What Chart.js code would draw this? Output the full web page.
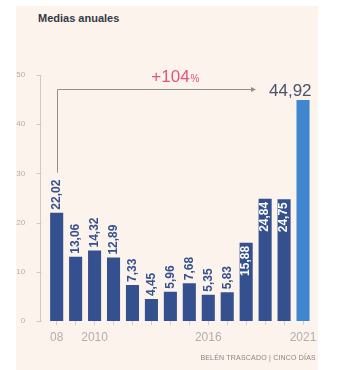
<!DOCTYPE html>
<html>
<head>
<meta charset="utf-8">
<script src="https://cdn.jsdelivr.net/npm/chart.js@4/dist/chart.umd.min.js"></script>
<style>
  body { margin: 0; background: #fff; font-family: "Liberation Sans", Arial, sans-serif; }
  #wrap { position: relative; width: 337px; height: 370px; }
  #panel { position: absolute; left: 16px; top: 6px; width: 302px; height: 364px; background: #fcf3ed; }
  #title { position: absolute; left: 38px; top: 12px; font-size: 11px; font-weight: bold; color: #353a46; }
  #source { position: absolute; right: 21px; top: 354px; font-size: 7px; color: #858585; letter-spacing: 0.2px; }
  canvas { position: absolute; left: 0; top: 0; }
</style>
</head>
<body>
<div id="wrap">
  <div id="panel"></div>
  <div id="title">Medias anuales</div>
  <canvas id="chart" width="337" height="370"></canvas>
  <div id="source">BELÉN TRASCADO | CINCO DÍAS</div>
</div>
<script>
// annual averages 2008-2021
const years = ['2008', '2009', '2010', '2011', '2012', '2013', '2014', '2015', '2016', '2017', '2018', '2019', '2020', '2021'];
const yearTicks = ['08', '', '2010', '', '', '', '', '', '2016', '', '', '', '', '2021'];
const averages = [22.02, 13.06, 14.32, 12.89, 7.33, 4.45, 5.96, 7.68, 5.35, 5.83, 15.88, 24.84, 24.75, 44.92];
const yTicks = [0, 10, 20, 30, 40, 50];

const NAVY = '#34508f';
const LIGHT = '#3f86cf';
const lastIdx = averages.length - 1;

const fmt = v => v.toFixed(2).replace('.', ',');

// labels of the recent tall bars sit inside the bar in white
const labelInside = i => i >= 10 && i < lastIdx;

const barLabels = {
  id: 'barLabels',
  afterDatasetsDraw(chart) {
    const ctx = chart.ctx;
    const meta = chart.getDatasetMeta(0);
    ctx.save();
    ctx.font = 'bold 12px "Liberation Sans", Arial, sans-serif';
    ctx.textBaseline = 'middle';
    meta.data.forEach((bar, i) => {
      if (i === lastIdx) return;
      const txt = fmt(averages[i]);
      ctx.save();
      ctx.translate(bar.x, bar.y);
      ctx.rotate(-Math.PI / 2);
      if (labelInside(i)) {
        ctx.fillStyle = '#ffffff';
        ctx.textAlign = 'right';
        ctx.fillText(txt, -3, 0);
      } else {
        ctx.fillStyle = NAVY;
        ctx.textAlign = 'left';
        ctx.fillText(txt, 3, 0);
      }
      ctx.restore();
    });
    ctx.restore();
  }
};

// y axis line with short ticks, set a little left of the bars
const yAxisLine = {
  id: 'yAxisLine',
  afterDraw(chart) {
    const ctx = chart.ctx;
    const y = chart.scales.y;
    const ax = Math.round(chart.chartArea.left - 7) + 0.5;
    ctx.save();
    ctx.strokeStyle = '#cfcac6';
    ctx.lineWidth = 1;
    ctx.beginPath();
    ctx.moveTo(ax, y.getPixelForValue(yTicks[yTicks.length - 1]));
    ctx.lineTo(ax, y.getPixelForValue(0));
    yTicks.forEach(t => {
      const py = Math.round(y.getPixelForValue(t)) + 0.5;
      ctx.moveTo(ax - 4, py);
      ctx.lineTo(ax + 1, py);
    });
    ctx.stroke();
    ctx.restore();
  }
};

// growth arrow from the first year to the last
const growthArrow = {
  id: 'growthArrow',
  afterDatasetsDraw(chart) {
    const ctx = chart.ctx;
    const meta = chart.getDatasetMeta(0);
    const first = meta.data[0];
    const last = meta.data[lastIdx];
    ctx.save();
    ctx.font = 'bold 12px "Liberation Sans", Arial, sans-serif';
    const firstLabelTop = first.y - 3 - ctx.measureText(fmt(averages[0])).width;

    ctx.font = '17px "Liberation Sans", Arial, sans-serif';
    const lastTxt = fmt(averages[lastIdx]);
    const lastW = ctx.measureText(lastTxt).width;
    const textRight = last.x + last.width / 2 + 2;
    const textLeft = textRight - lastW;
    const baseY = last.y - 4;
    const lineY = Math.round(last.y - 11) + 0.5;
    const arrowEnd = textLeft - 15;
    const x0 = Math.round(first.x) + 0.5;

    ctx.fillStyle = '#48536d';
    ctx.textAlign = 'left';
    ctx.textBaseline = 'alphabetic';
    ctx.fillText(lastTxt, textLeft, baseY);

    ctx.strokeStyle = '#8f8f8f';
    ctx.lineWidth = 1;
    ctx.beginPath();
    ctx.moveTo(x0, firstLabelTop - 7);
    ctx.lineTo(x0, lineY);
    ctx.lineTo(arrowEnd, lineY);
    ctx.stroke();
    ctx.fillStyle = '#8f8f8f';
    ctx.beginPath();
    ctx.moveTo(arrowEnd + 2, lineY);
    ctx.lineTo(arrowEnd - 3, lineY - 2.5);
    ctx.lineTo(arrowEnd - 3, lineY + 2.5);
    ctx.closePath();
    ctx.fill();

    const pct = Math.round((averages[lastIdx] / averages[0] - 1) * 100);
    const main = '+' + pct;
    ctx.font = '17px "Liberation Sans", Arial, sans-serif';
    const mw = ctx.measureText(main).width;
    ctx.font = '10px "Liberation Sans", Arial, sans-serif';
    const pw = ctx.measureText('%').width;
    const cx = x0 + (arrowEnd - x0) * 0.6;
    const sx = cx - (mw + pw + 1) / 2;
    ctx.fillStyle = '#e2557a';
    ctx.font = '17px "Liberation Sans", Arial, sans-serif';
    ctx.fillText(main, sx, lineY - 8);
    ctx.font = '10px "Liberation Sans", Arial, sans-serif';
    ctx.fillText('%', sx + mw + 1, lineY - 8);
    ctx.restore();
  }
};

new Chart(document.getElementById('chart').getContext('2d'), {
  type: 'bar',
  data: {
    labels: years,
    datasets: [{
      data: averages,
      backgroundColor: averages.map((v, i) => i === lastIdx ? LIGHT : NAVY),
      categoryPercentage: 1,
      barPercentage: 0.69
    }]
  },
  options: {
    responsive: false,
    animation: false,
    layout: { padding: { top: 75, right: 24.5, left: 0, bottom: 0 } },
    plugins: {
      legend: { display: false },
      tooltip: { enabled: false }
    },
    scales: {
      x: {
        offset: true,
        grid: { display: true, drawOnChartArea: false, offset: false, tickLength: 4, color: '#d3cecb' },
        border: { display: false },
        ticks: {
          autoSkip: false,
          maxRotation: 0,
          padding: 5,
          color: '#b2aeaa',
          font: { size: 12, family: '"Liberation Sans", Arial, sans-serif' },
          callback: (v, i) => yearTicks[i]
        },
        afterFit: s => { s.height = 49; }
      },
      y: {
        min: 0,
        max: 50,
        grid: { display: false },
        border: { display: false },
        ticks: {
          stepSize: 10,
          padding: 14,
          color: '#b3aeaa',
          font: { size: 8, family: '"Liberation Sans", Arial, sans-serif' }
        },
        afterFit: s => { s.width = 47.2; }
      }
    }
  },
  plugins: [barLabels, yAxisLine, growthArrow]
});
</script>
</body>
</html>
